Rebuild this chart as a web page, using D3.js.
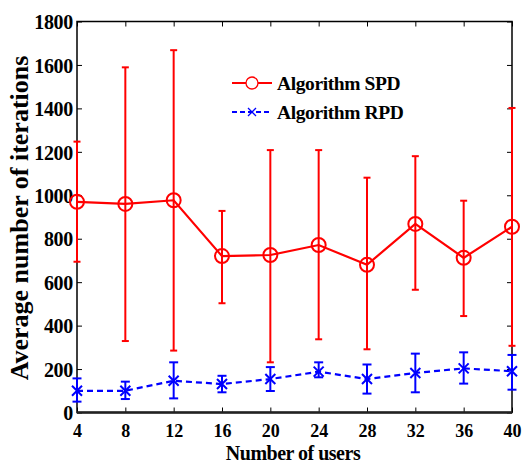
<script src="https://d3js.org/d3.v7.min.js"></script>
<style>
  body { margin: 0; background: #fff; }
  text { font-family: "Liberation Serif", "Times New Roman", serif; font-weight: bold; }
</style>
<body>
<svg id="vis"></svg>
<script>
  var width = 524
  var height = 464
  var users = [4, 8, 12, 16, 20, 24, 28, 32, 36, 40]
  var spdMean = [970, 960, 977, 720, 725, 771, 680, 868, 712, 855]
  var spdHigh = [1247, 1589, 1668, 928, 1208, 1208, 1081, 1180, 975, 1402]
  var spdLow = [694, 329, 285, 503, 231, 337, 291, 565, 444, 307]
  var rpdMean = [100, 100, 146, 131, 154, 188, 154, 182, 203, 190]
  var rpdHigh = [157, 142, 231, 169, 209, 231, 221, 271, 277, 265]
  var rpdLow = [50, 62, 65, 93, 99, 162, 87, 93, 133, 105]
  var yTicks = [0, 200, 400, 600, 800, 1000, 1200, 1400, 1600, 1800]

  var plotL = 77, plotR = 512, plotT = 21.5, plotB = 412.5

  var svg = d3.select('#vis')
    .attr('width', width)
    .attr('height', height)

  var x = d3.scaleLinear().domain([4, 40]).range([plotL, plotR])
  var y = d3.scaleLinear().domain([0, 1800]).range([plotB, plotT])

  // axes, ticks pointing inward on all four sides
  var gx = svg.append('g').attr('transform', 'translate(0,' + plotB + ')')
    .call(d3.axisBottom(x).tickValues(users).tickSizeInner(-5).tickSizeOuter(0).tickPadding(12))
  gx.selectAll('text').style('font-size', '18px').attr('fill', '#000')
  svg.append('g').attr('transform', 'translate(0,' + plotT + ')')
    .call(d3.axisTop(x).tickValues(users).tickSizeInner(-5).tickSizeOuter(0).tickFormat(''))
  var gy = svg.append('g').attr('transform', 'translate(' + plotL + ',0)')
    .call(d3.axisLeft(y).tickValues(yTicks).tickFormat(d3.format('d')).tickSizeInner(-5).tickSizeOuter(0).tickPadding(4))
  gy.selectAll('text').style('font-size', '20px').style('letter-spacing', '-0.3px')
    .attr('fill', '#000').attr('dy', '0.36em')
  svg.append('g').attr('transform', 'translate(' + plotR + ',0)')
    .call(d3.axisRight(y).tickValues(yTicks).tickSizeInner(-5).tickSizeOuter(0).tickFormat(''))
  svg.selectAll('.domain').remove()
  svg.selectAll('.tick line').attr('stroke', '#000')

  svg.append('rect')
    .attr('x', plotL).attr('y', plotT)
    .attr('width', plotR - plotL).attr('height', plotB - plotT)
    .attr('fill', 'none').attr('stroke', '#000').attr('stroke-width', 1.5)
  svg.append('line')
    .attr('x1', plotL).attr('x2', plotR).attr('y1', plotB).attr('y2', plotB)
    .attr('stroke', '#222').attr('stroke-width', 2.5)

  function drawSeries(mean, high, low, color, cap, dash, marker) {
    var g = svg.append('g')
    var line = d3.line().x((d, i) => x(users[i])).y(d => y(d))
    g.append('path').datum(mean)
      .attr('d', line)
      .attr('fill', 'none')
      .attr('stroke', color)
      .attr('stroke-width', 2.2)
      .attr('stroke-dasharray', dash)
    users.forEach(function(u, i) {
      var cx = x(u)
      g.append('line').attr('x1', cx).attr('x2', cx)
        .attr('y1', y(low[i])).attr('y2', y(high[i]))
        .attr('stroke', color).attr('stroke-width', 2)
      ;[low[i], high[i]].forEach(function(v) {
        g.append('line').attr('x1', cx - cap).attr('x2', cx + cap)
          .attr('y1', y(v)).attr('y2', y(v))
          .attr('stroke', color).attr('stroke-width', 2)
      })
      marker(g, cx, y(mean[i]))
    })
  }

  function circleMarker(g, cx, cy) {
    g.append('circle').attr('cx', cx).attr('cy', cy).attr('r', 7)
      .attr('fill', 'none').attr('stroke', '#f00').attr('stroke-width', 2)
  }

  function crossMarker(g, cx, cy) {
    var s = 5
    g.append('path')
      .attr('d', 'M' + (cx - s) + ',' + (cy - s) + 'L' + (cx + s) + ',' + (cy + s) +
        'M' + (cx - s) + ',' + (cy + s) + 'L' + (cx + s) + ',' + (cy - s))
      .attr('stroke', '#00f').attr('stroke-width', 2)
  }

  drawSeries(spdMean, spdHigh, spdLow, '#f00', 3.5, null, circleMarker)
  drawSeries(rpdMean, rpdHigh, rpdLow, '#00f', 4.5, '6,4', crossMarker)

  // legend
  var lg = svg.append('g')
  lg.append('line').attr('x1', 232).attr('x2', 272).attr('y1', 83).attr('y2', 83)
    .attr('stroke', '#f00').attr('stroke-width', 2.2)
  lg.append('circle').attr('cx', 252).attr('cy', 83).attr('r', 6)
    .attr('fill', '#fff').attr('stroke', '#f00').attr('stroke-width', 1.3)
  lg.append('line').attr('x1', 232).attr('x2', 272).attr('y1', 112).attr('y2', 112)
    .attr('stroke', '#00f').attr('stroke-width', 2).attr('stroke-dasharray', '5,3')
  lg.append('path').attr('d', 'M248,108L256,116M248,116L256,108')
    .attr('stroke', '#00f').attr('stroke-width', 1.3)
  lg.append('text').attr('x', 277).attr('y', 89.5).text('Algorithm SPD')
    .style('font-size', '19.5px').style('letter-spacing', '-0.4px')
  lg.append('text').attr('x', 277).attr('y', 118.5).text('Algorithm RPD')
    .style('font-size', '19.5px').style('letter-spacing', '-0.4px')

  // axis titles
  svg.append('text').attr('x', 293).attr('y', 460).attr('text-anchor', 'middle')
    .style('font-size', '20px').style('letter-spacing', '-0.5px').text('Number of users')
  svg.append('text')
    .attr('transform', 'translate(28,218) rotate(-90)')
    .attr('text-anchor', 'middle')
    .style('font-size', '26px').text('Average number of iterations')
</script>
</body>
